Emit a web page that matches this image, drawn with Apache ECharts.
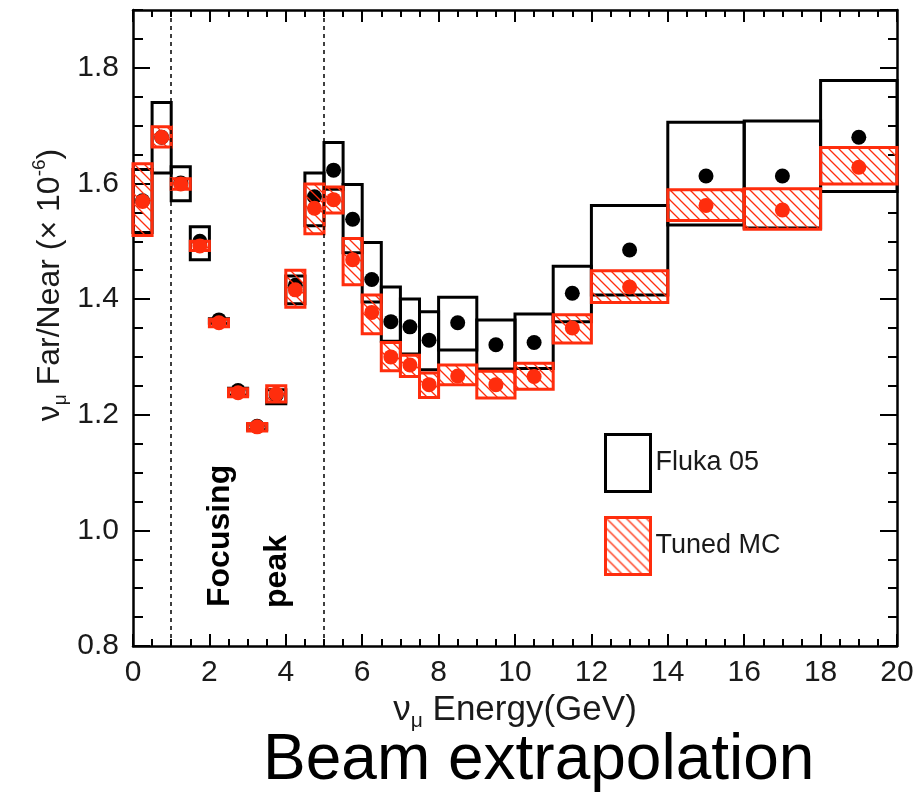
<!DOCTYPE html>
<html lang="en">
<head>
    <meta charset="UTF-8">
    <title>Beam extrapolation</title>
    <script type="text/javascript" src="https://cdn.jsdelivr.net/npm/echarts@6/dist/echarts.min.js"></script>
    <style type="text/css">
        html, body { margin: 0; padding: 0; background: #fff; }
        #chart { width: 917px; height: 796px; }
    </style>
</head>
<body>
    <div id="chart"></div>
    <script type="text/javascript">
        // bin edges in GeV
        let binEdges = [0, 0.5, 1, 1.5, 2, 2.5, 3, 3.5, 4, 4.5, 5, 5.5, 6, 6.5, 7, 7.5, 8, 9, 10, 11, 12, 14, 16, 18, 20]

        // Fluka 05 : band low / high and central value
        let flukaLow   = [1.515, 1.618, 1.570, 1.468, 1.358, 1.234, 1.174, 1.219, 1.392, 1.527, 1.590, 1.480, 1.395, 1.327, 1.305, 1.278, 1.312, 1.279, 1.280, 1.361, 1.407, 1.528, 1.523, 1.586]
        let flukaHigh  = [1.624, 1.740, 1.629, 1.525, 1.366, 1.246, 1.184, 1.243, 1.440, 1.618, 1.671, 1.598, 1.498, 1.421, 1.400, 1.378, 1.403, 1.364, 1.374, 1.457, 1.562, 1.706, 1.708, 1.778]
        let flukaValue = [1.570, 1.680, 1.601, 1.500, 1.364, 1.242, 1.180, 1.234, 1.424, 1.577, 1.623, 1.538, 1.434, 1.361, 1.352, 1.329, 1.359, 1.321, 1.325, 1.410, 1.485, 1.613, 1.613, 1.680]

        // Tuned MC
        let tunedLow   = [1.510, 1.663, 1.590, 1.484, 1.352, 1.231, 1.172, 1.222, 1.386, 1.513, 1.549, 1.425, 1.340, 1.276, 1.266, 1.230, 1.252, 1.229, 1.244, 1.324, 1.394, 1.536, 1.521, 1.599]
        let tunedHigh  = [1.634, 1.698, 1.608, 1.500, 1.365, 1.245, 1.185, 1.250, 1.450, 1.599, 1.594, 1.505, 1.407, 1.325, 1.303, 1.272, 1.286, 1.275, 1.289, 1.373, 1.449, 1.589, 1.591, 1.662]
        let tunedValue = [1.569, 1.680, 1.599, 1.492, 1.359, 1.238, 1.179, 1.236, 1.416, 1.557, 1.572, 1.468, 1.377, 1.300, 1.286, 1.252, 1.267, 1.252, 1.266, 1.350, 1.421, 1.562, 1.554, 1.628]

        let regionLines = [1, 5]

        let red = '#ff2d0d'
        let font = 'Liberation Sans, Arial, Helvetica, sans-serif'

        function boxes(low, high) {
            let out = []
            for (let i = 0; i < low.length; i++) {
                out.push([binEdges[i], binEdges[i + 1], low[i], high[i]])
            }
            return out
        }

        function points(vals) {
            let out = []
            for (let i = 0; i < vals.length; i++) {
                out.push([(binEdges[i] + binEdges[i + 1]) / 2, vals[i]])
            }
            return out
        }

        // diagonal "\" hatch for the tuned band
        function hatch(color) {
            let c = document.createElement('canvas')
            c.width = 10
            c.height = 10
            let g = c.getContext('2d')
            g.strokeStyle = color
            g.lineWidth = 1.3
            g.beginPath()
            g.moveTo(0, 0); g.lineTo(10, 10)
            g.moveTo(5, -5); g.lineTo(15, 5)
            g.moveTo(-5, 5); g.lineTo(5, 15)
            g.stroke()
            return c
        }
        let hatchFill = { image: hatch(red), repeat: 'repeat' }

        function boxRenderer(fill, stroke) {
            return function (params, api) {
                let a = api.coord([api.value(0), api.value(3)])
                let b = api.coord([api.value(1), api.value(2)])
                return {
                    type: 'rect',
                    shape: { x: a[0], y: a[1], width: b[0] - a[0], height: b[1] - a[1] },
                    style: { fill: fill, stroke: stroke, lineWidth: 3 }
                }
            }
        }

        function xAxisOf(pos, labels) {
            return {
                type: 'value', position: pos, min: 0, max: 20, interval: 2,
                axisLine: { show: true, onZero: false, lineStyle: { color: '#000', width: 2.5 } },
                axisTick: { show: true, inside: true, length: 12, lineStyle: { color: '#000', width: 2 } },
                minorTick: { show: true, splitNumber: 4, length: 7, lineStyle: { color: '#000', width: 2 } },
                axisLabel: { show: labels, fontSize: 30, fontFamily: font, color: '#1a1a1a', margin: 12 },
                splitLine: { show: false },
                minorSplitLine: { show: false }
            }
        }

        function yAxisOf(pos, step, len, labels, line) {
            return {
                type: 'value', position: pos, min: 0.8, max: 1.9, interval: step,
                axisLine: { show: line, onZero: false, lineStyle: { color: '#000', width: 2.5 } },
                axisTick: { show: true, inside: true, length: len, lineStyle: { color: '#000', width: 2 } },
                axisLabel: {
                    show: labels, fontSize: 30, fontFamily: font, color: '#1a1a1a', margin: 14,
                    showMaxLabel: false,
                    formatter: function (v) { return v.toFixed(1) }
                },
                splitLine: { show: false }
            }
        }

        let chart = echarts.init(document.getElementById('chart'))

        let option = {
            animation: false,
            backgroundColor: '#fff',
            grid: { left: 133, right: 20, top: 10, bottom: 150 },
            title: {
                text: 'Beam extrapolation',
                left: 258, top: 724,
                textStyle: { fontFamily: font, fontSize: 64, fontWeight: 'normal', color: '#000' }
            },
            legend: {
                orient: 'vertical', left: 604, top: 433, padding: 0,
                itemWidth: 45, itemHeight: 57, itemGap: 23,
                icon: 'rect',
                textStyle: { fontFamily: font, fontSize: 27, color: '#1a1a1a' },
                data: [
                    { name: 'Fluka 05', itemStyle: { color: 'rgba(0,0,0,0)', borderColor: '#000', borderWidth: 3 } },
                    { name: 'Tuned MC', itemStyle: { color: hatchFill, borderColor: red, borderWidth: 3 } }
                ]
            },
            xAxis: [
                Object.assign(xAxisOf('bottom', true), {
                    name: '{nu|ν}{mu|μ}{t| Energy(GeV)}',
                    nameLocation: 'middle', nameGap: 43,
                    nameTextStyle: {
                        fontFamily: font, color: '#1a1a1a',
                        rich: {
                            nu: { fontSize: 35, fontFamily: font, color: '#1a1a1a', lineHeight: 42, verticalAlign: 'middle' },
                            mu: { fontSize: 21, fontFamily: font, color: '#1a1a1a', verticalAlign: 'bottom' },
                            t: { fontSize: 35, fontFamily: font, color: '#1a1a1a', lineHeight: 42, verticalAlign: 'middle' }
                        }
                    }
                }),
                xAxisOf('top', false)
            ],
            yAxis: [
                yAxisOf('left', 0.2, 17, true, true),
                yAxisOf('left', 0.05, 10, false, false),
                yAxisOf('right', 0.2, 17, false, true),
                yAxisOf('right', 0.05, 9, false, false)
            ],
            graphic: [
                {
                    type: 'text', x: 50, y: 285, rotation: Math.PI / 2, silent: true,
                    style: {
                        text: '{nu|ν}{mu|μ}{t| Far/Near (× 10}{sup|-6}{t|)}',
                        align: 'center', verticalAlign: 'middle',
                        rich: {
                            nu: { fontSize: 32, fontFamily: font, fill: '#1a1a1a', lineHeight: 40 },
                            mu: { fontSize: 19, fontFamily: font, fill: '#1a1a1a', verticalAlign: 'bottom' },
                            t: { fontSize: 32, fontFamily: font, fill: '#1a1a1a', lineHeight: 40 },
                            sup: { fontSize: 19, fontFamily: font, fill: '#1a1a1a', verticalAlign: 'top' }
                        }
                    }
                },
                {
                    type: 'text', x: 220, y: 607, rotation: Math.PI / 2, silent: true,
                    style: { text: 'Focusing', fontSize: 32, fontWeight: 'bold', fontFamily: font, fill: '#000', align: 'left', verticalAlign: 'middle' }
                },
                {
                    type: 'text', x: 277, y: 608, rotation: Math.PI / 2, silent: true,
                    style: { text: 'peak', fontSize: 32, fontWeight: 'bold', fontFamily: font, fill: '#000', align: 'left', verticalAlign: 'middle' }
                }
            ],
            series: [
                {
                    name: 'Fluka 05', type: 'custom', z: 2,
                    itemStyle: { color: 'rgba(0,0,0,0)', borderColor: '#000', borderWidth: 3 },
                    renderItem: boxRenderer('rgba(0,0,0,0)', '#000'),
                    encode: { x: [0, 1], y: [2, 3] },
                    data: boxes(flukaLow, flukaHigh),
                    markLine: {
                        silent: true, symbol: 'none', label: { show: false },
                        lineStyle: { color: '#000', type: [4, 4], width: 1.5 },
                        data: regionLines.map(function (v) { return { xAxis: v } })
                    }
                },
                {
                    name: 'Fluka 05 value', type: 'scatter', z: 3,
                    symbol: 'circle', symbolSize: 15,
                    itemStyle: { color: '#000', opacity: 1 },
                    data: points(flukaValue)
                },
                {
                    name: 'Tuned MC', type: 'custom', z: 4,
                    itemStyle: { color: hatchFill, borderColor: red, borderWidth: 3 },
                    renderItem: boxRenderer(hatchFill, red),
                    encode: { x: [0, 1], y: [2, 3] },
                    data: boxes(tunedLow, tunedHigh)
                },
                {
                    name: 'Tuned MC value', type: 'scatter', z: 5,
                    symbol: 'circle', symbolSize: 15,
                    itemStyle: { color: red, opacity: 1 },
                    data: points(tunedValue)
                }
            ]
        }

        chart.setOption(option)
    </script>
</body>
</html>
